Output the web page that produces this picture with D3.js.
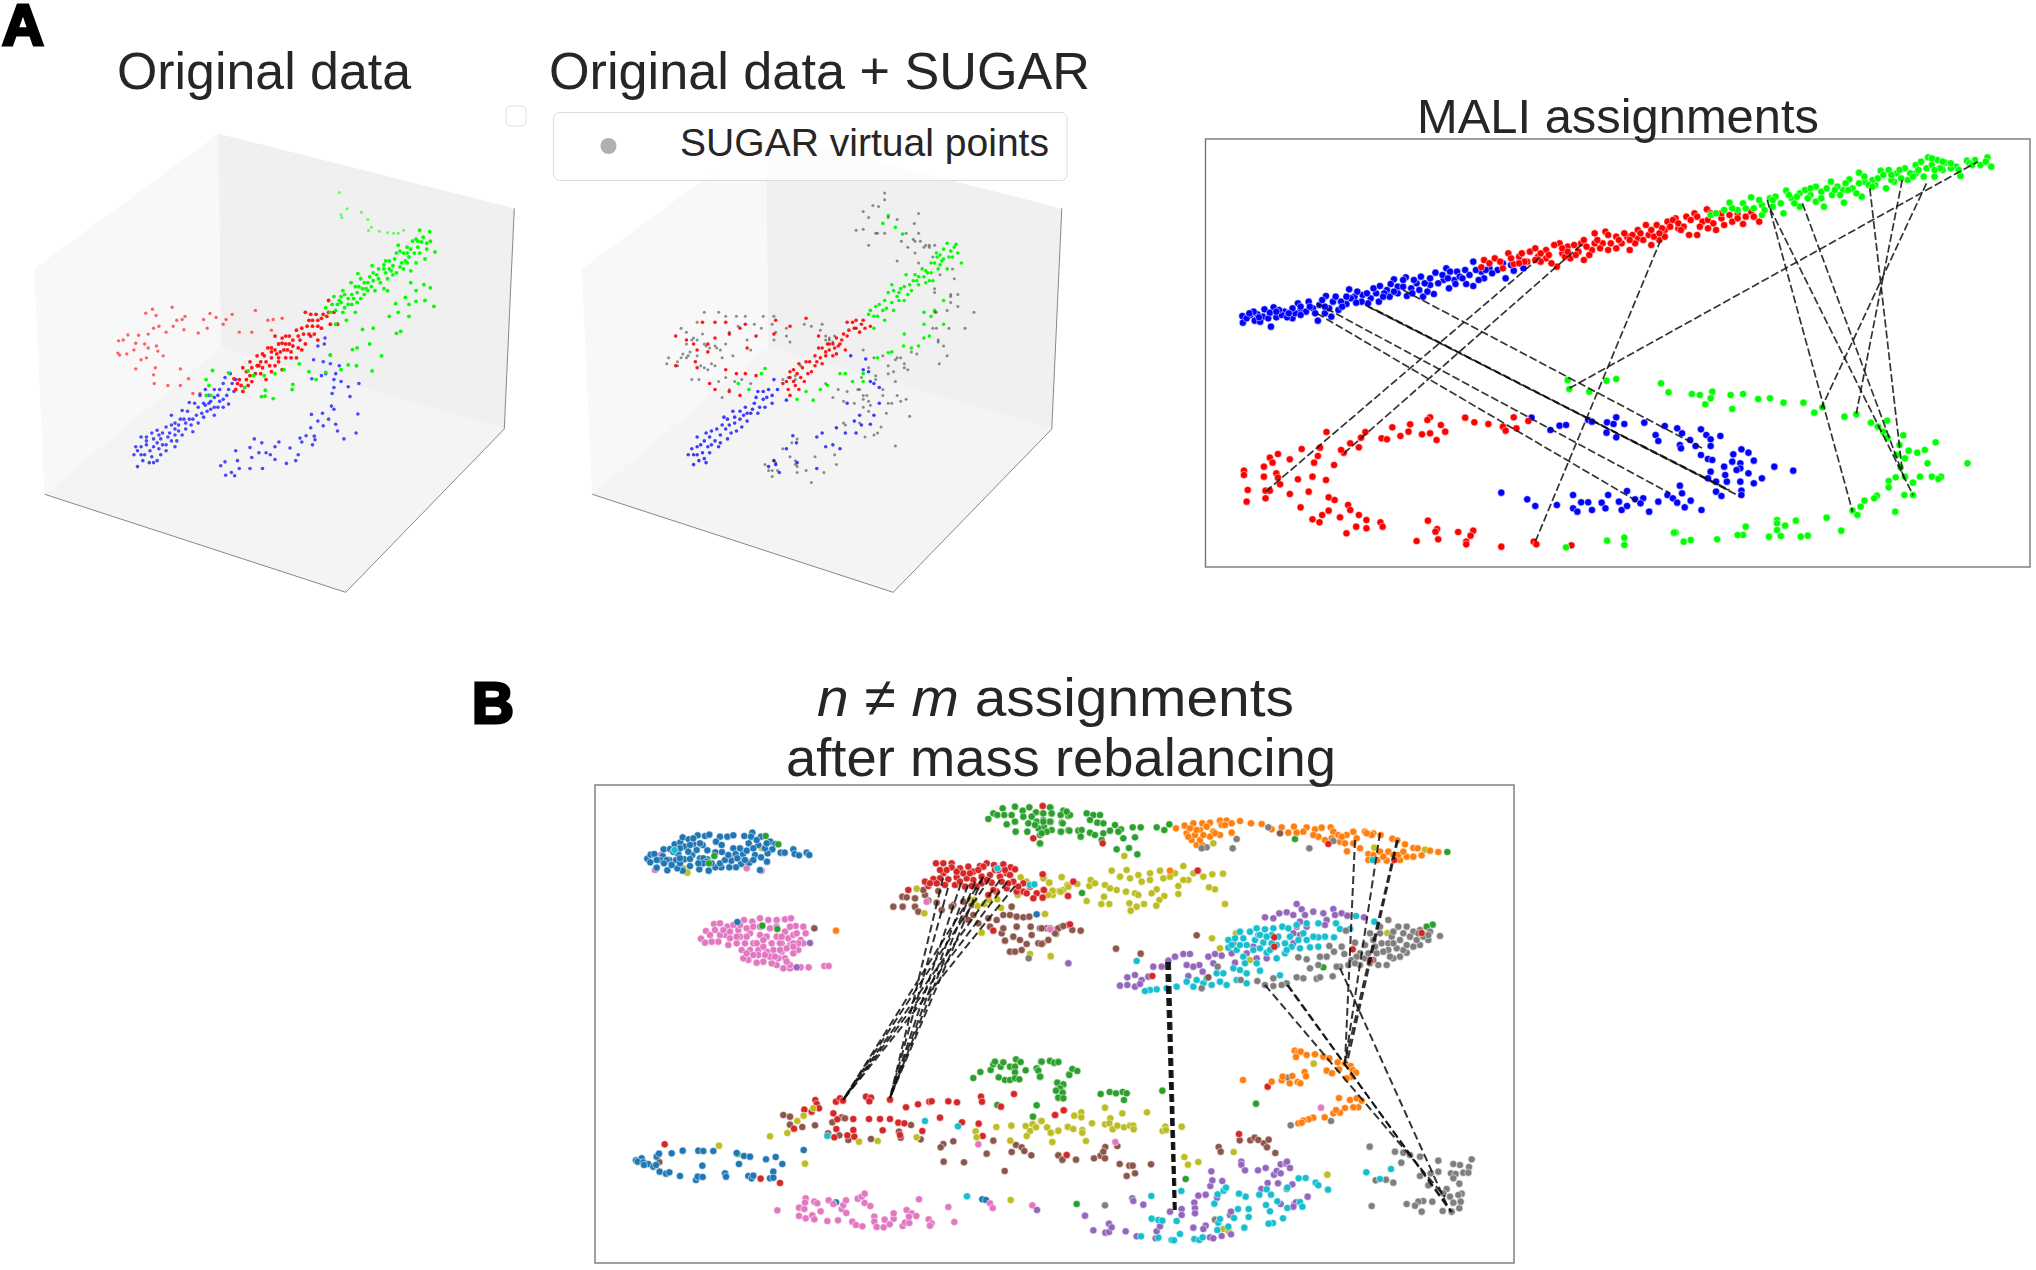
<!DOCTYPE html>
<html><head><meta charset="utf-8">
<script src="https://cdn.jsdelivr.net/npm/d3@7"></script>
<style>html,body{margin:0;padding:0;background:#fff}svg{display:block}text{font-family:"Liberation Sans",Arial,sans-serif}</style>
</head><body><svg id="c" width="2036" height="1270"></svg>
<script>
// ---------- 3D pane outlines (read in crop units) ----------
const paneLeft=[[96,680],[612,338],[618,878],[125,1250]];
const paneBack=[[612,338],[1440,527],[1412,1085],[618,878]];
const paneFloor=[[125,1250],[618,878],[1412,1085],[968,1498]];
const paneEdges=[[[125,1250],[968,1498]],[[968,1498],[1412,1085]],[[1412,1085],[1440,527]]];

// ---------- Panel A1: Original data ----------
const a1Green=[[1175,582],[1203,586],[1165,605],[1185,600],[1205,610],[1140,625],[1115,620],[1170,625],[1218,637],[1190,655],[1130,640],[1145,650],[1110,640],[1165,665],[1125,665],[1080,660],[1100,672],[1060,680],[1130,680],[1110,690],[1150,685],[1042,672],[1002,692],[1035,700],[1060,705],[1080,690],[1020,715],[1040,725],[1075,730],[1085,735],[983,715],[960,735],[1000,740],[1020,745],[965,745],[935,750],[950,760],[985,770],[995,790],[1010,755],[965,778],[940,785],[912,778],[930,770],[970,810],[940,820],[1150,715],[1165,735],[1187,720],[1205,728],[1135,752],[1190,760],[1215,775],[1145,770],[1165,762],[1108,768],[1115,790],[1090,800],[1145,800],[1015,833],[1045,830],[1110,843],[1122,838],[1035,870],[1000,880],[987,884],[1068,900],[975,923],[998,925],[1042,938],[955,935],[925,898],[912,942],[865,940],[885,960],[838,920],[820,972],[818,985],[743,987],[732,1003],[742,1002],[765,1008],[795,935],[770,945],[740,950],[710,950],[695,938],[685,980],[595,937],[640,943],[577,960],[585,975],[578,1000],[590,1000],[1025,730],[1005,725],[1045,710],[1140,640],[1175,640],[1150,630],[975,755],[1095,685],[1195,615],[1180,612],[1155,610],[1195,630],[1160,640],[1120,635],[1135,660],[1105,655],[1090,660],[1120,675],[1075,670],[1085,705],[1055,695],[1065,715],[1045,690],[1030,715],[1010,705],[1015,730],[1050,735],[995,725],[990,755],[975,770],[1000,765],[955,750],[945,770],[960,790],[985,745],[925,790],[1100,695],[1140,665],[1090,680],[1030,735],[1075,680],[1170,610],[955,765]];
const a1GreenFaint=[[950,487],[972,528],[1012,537],[955,543],[957,550],[1030,555],[1040,575],[1032,583],[1062,585],[1085,588],[1102,590],[1115,590],[1130,582]];
const a1Red=[[915,800],[935,790],[920,760],[925,820],[945,820],[885,795],[875,810],[860,825],[855,790],[900,830],[880,845],[890,860],[850,845],[830,835],[810,850],[790,855],[770,850],[855,870],[835,880],[815,890],[795,885],[770,885],[750,880],[830,905],[800,905],[780,915],[760,905],[740,900],[720,900],[700,915],[680,930],[790,935],[760,940],[735,930],[715,945],[690,960],[670,960],[655,958],[695,975],[680,990],[745,960],[790,868],[840,860],[875,825],[810,870],[775,895],[730,915],[705,965],[660,985],[900,805],[920,790],[905,795],[890,810],[870,795],[865,810],[890,825],[865,845],[845,830],[820,860],[800,870],[835,850],[780,870],[760,880],[845,885],[820,875],[805,885],[785,890],[760,890],[815,905],[745,915],[770,925],[725,925],[705,930],[720,925],[690,940],[730,945],[700,950],[675,975],[665,970],[755,925],[800,850],[870,850],[780,905],[735,895]];
const a1RedFaint=[[427,782],[482,777],[408,792],[437,798],[518,800],[495,810],[510,808],[588,793],[570,808],[605,803],[650,795],[633,808],[715,785],[750,810],[765,808],[790,805],[625,820],[580,830],[555,842],[515,834],[485,825],[465,840],[445,825],[430,830],[415,845],[388,848],[358,847],[345,860],[332,862],[380,868],[405,870],[438,875],[375,885],[355,895],[335,898],[442,888],[457,900],[410,905],[395,910],[380,933],[435,930],[430,948],[505,933],[432,970],[470,975],[505,975],[528,958],[540,995],[560,995],[670,840],[705,840],[760,835],[415,880],[330,893]];
const a1Blue=[[645,945],[630,955],[660,960],[625,970],[600,985],[640,985],[655,990],[575,985],[610,1000],[640,1022],[590,1015],[560,1000],[530,1018],[555,1030],[580,1040],[600,1050],[510,1038],[480,1050],[530,1060],[555,1070],[500,1075],[490,1085],[520,1085],[465,1080],[440,1088],[425,1095],[395,1105],[470,1105],[495,1115],[440,1120],[410,1125],[380,1130],[375,1150],[395,1150],[420,1140],[450,1150],[465,1125],[385,1180],[418,1170],[430,1170],[445,1135],[540,1092],[570,1055],[610,1030],[625,1010],[490,1100],[505,1060],[585,1020],[550,1050],[520,1070],[455,1095],[410,1105],[575,1025],[600,1030],[450,1110],[480,1075],[650,970],[615,985],[635,1000],[600,1005],[585,1000],[570,1020],[545,1020],[565,1045],[525,1040],[540,1060],[515,1060],[490,1070],[475,1095],[500,1090],[510,1100],[445,1100],[430,1110],[410,1115],[395,1130],[430,1130],[455,1125],[405,1150],[425,1155],[385,1140],[400,1165],[440,1165],[590,1035],[625,1030],[480,1115],[465,1140],[490,1130],[535,1075],[615,1015],[910,855],[890,875],[908,870],[925,898],[878,910],[905,915],[925,920],[950,925],[940,945],[912,945],[900,950],[873,958],[935,960],[955,965],[1005,970],[975,978],[935,980],[930,995],[980,1003],[928,1027],[935,1035],[903,1045],[872,1048],[1002,1047],[920,1060],[890,1065],[940,1073],[870,1082],[905,1077],[945,1090],[997,1095],[963,1110],[880,1103],[857,1102],[840,1108],[882,1112],[875,1125],[845,1118],[835,1150],[828,1165],[802,1172],[812,1133],[781,1118],[770,1130],[757,1150],[745,1145],[725,1145],[733,1120],[712,1110],[700,1132],[705,1157],[770,1162],[660,1140],[665,1165],[630,1168],[618,1178],[670,1185],[700,1185],[735,1185],[648,1195],[632,1202],[657,1203]];

// ---------- Panel A2: Original data + SUGAR ----------
const a2Gray=[[965,488],[965,505],[932,520],[948,522],[905,535],[920,550],[975,550],[1000,555],[1060,540],[1048,565],[885,582],[905,580],[940,590],[965,590],[1025,590],[1060,590],[1012,610],[1030,625],[1065,610],[1090,625],[920,620],[1000,660],[1050,640],[1060,665],[1100,650],[1155,680],[1120,695],[1160,705],[1105,730],[1150,745],[1170,745],[1170,775],[1150,765],[1140,785],[1105,790],[1215,790],[1190,830],[1145,830],[1110,830],[1130,875],[1115,860],[1140,900],[1118,920],[1055,895],[1040,890],[1020,920],[1000,905],[975,925],[960,900],[935,905],[905,885],[1030,935],[990,940],[975,945],[940,950],[995,965],[960,985],[1025,1010],[985,1020],[1035,1053],[970,1045],[955,1080],[935,1100],[910,1105],[995,1128],[905,1000],[890,985],[860,990],[835,985],[820,1005],[850,1015],[920,1015],[905,1030],[880,1020],[800,970],[895,1070],[850,1070],[825,850],[800,860],[785,835],[790,820],[810,855],[760,825],[715,950],[695,955],[730,925],[680,960],[520,955],[545,965],[500,965],[565,960],[590,970],[530,985],[510,1005],[425,960],[445,960],[470,935],[490,925],[460,930],[395,905],[410,905],[360,905],[385,925],[355,920],[440,900],[505,885],[540,900],[520,870],[490,875],[460,870],[430,855],[395,830],[410,840],[440,815],[460,790],[500,790],[520,800],[550,800],[575,800],[625,800],[655,800],[530,840],[555,825],[600,820],[580,860],[590,885],[620,830],[660,840],[690,850],[700,865],[655,860],[650,820],[690,830],[740,820],[1045,605],[1080,620],[1105,620],[655,1165],[630,1175],[640,1190],[650,1205],[665,1190],[680,1135],[705,1120],[720,1110],[700,1155],[715,1175],[720,1195],[745,1190],[770,1155],[760,1220],[795,1195],[830,1175],[825,1150],[855,1075],[945,1095],[920,1040],[960,1000],[1000,1000],[975,1020],[1010,1015],[410,870],[425,860],[440,860],[465,875],[475,880],[400,895],[415,900],[385,915],[450,925],[480,920],[510,905],[495,880],[455,845],[420,890],[810,860],[820,865],[800,850],[715,960],[905,1010],[915,1000],[925,1025],[895,985],[1105,740],[1110,790],[1100,830],[1150,750],[1050,610],[1090,620],[1075,625],[945,590],[1115,865],[995,910],[1010,905],[1020,930],[660,1170],[650,1190],[715,1165],[720,1180],[940,960],[900,955],[920,930]];
const a2Green=[[1165,618],[1140,615],[1170,640],[1130,630],[1112,650],[1180,665],[1095,665],[1140,680],[1115,680],[1080,685],[1050,695],[1075,700],[1100,710],[1025,695],[1045,710],[985,720],[1010,730],[1040,735],[1000,750],[975,740],[1020,760],[950,770],[925,785],[970,780],[990,785],[945,800],[920,795],[965,810],[935,830],[1110,640],[1125,660],[1060,720],[1095,690],[1155,650],[1130,760],[1105,785],[1075,790],[1130,820],[1075,820],[1090,850],[1075,855],[1020,845],[1018,875],[1040,880],[1060,875],[975,892],[985,890],[905,965],[905,945],[855,945],[875,965],[840,945],[785,985],[805,975],[765,1012],[745,990],[720,1010],[620,945],[630,932],[585,985],[555,970],[975,545],[995,575],[1015,592],[960,565],[1095,800],[945,905],[1150,635],[1160,625],[1145,650],[1130,655],[1120,645],[1105,665],[1085,690],[1070,680],[1090,710],[1060,700],[1035,720],[1020,725],[1005,740],[990,735],[1030,745],[985,765],[965,760],[960,785],[935,800],[1120,670],[1005,760],[1055,710],[940,775],[1080,715]];
const a2Red=[[905,810],[925,825],[885,810],[860,815],[880,830],[895,840],[860,850],[830,855],[805,870],[780,880],[855,885],[830,895],[800,900],[770,900],[745,915],[725,920],[700,940],[720,945],[760,940],[790,920],[690,965],[710,965],[740,965],[725,985],[700,1000],[680,970],[820,870],[840,870],[810,885],[780,850],[380,850],[455,815],[490,815],[520,815],[575,820],[605,850],[580,880],[410,860],[440,885],[430,870],[470,870],[490,855],[530,845],[560,830],[660,810],[700,825],[745,805],[655,845],[380,925],[435,915],[470,890],[520,935],[475,970],[490,985],[530,990],[550,945],[575,945],[605,950],[560,1000],[440,930],[910,830],[875,815],[865,835],[845,860],[850,845],[825,880],[810,870],[790,880],[820,900],[785,905],[775,915],[755,915],[735,930],[710,935],[700,955],[730,955],[750,945],[770,925],[800,890],[835,875],[715,975],[695,985],[885,830],[900,820]];
const a2Blue=[[655,960],[640,985],[665,985],[610,990],[625,1010],[600,1020],[650,1020],[690,1012],[575,1030],[540,1040],[590,1045],[610,1045],[515,1055],[560,1060],[580,1065],[530,1075],[550,1090],[480,1090],[505,1100],[520,1085],[525,1110],[465,1095],[440,1105],[490,1115],[450,1125],[425,1135],[470,1130],[500,1130],[440,1150],[460,1160],[415,1150],[430,1175],[475,1145],[465,1170],[570,1050],[545,1070],[630,1030],[650,1000],[635,1005],[615,1030],[595,1035],[560,1040],[545,1055],[525,1060],[565,1080],[510,1075],[535,1095],[495,1085],[475,1105],[505,1120],[460,1115],[440,1130],[455,1145],[480,1125],[430,1150],[445,1165],[605,1005],[625,990],[580,1045],[870,900],[912,908],[905,935],[920,940],[935,970],[950,980],[925,965],[860,1020],[950,1020],[935,1050],[895,1050],[880,1065],[925,1073],[900,1075],[885,1095],[830,1082],[855,1095],[790,1095],[775,1105],[800,1130],[820,1125],[840,1135],[708,1102],[718,1120],[690,1135],[655,1165],[660,1175],[720,1170],[775,1185],[670,1195],[640,1180]];

// ---------- Panel A3: MALI assignments ----------
const maliBlue=[[97,708],[98,728],[112,705],[120,722],[125,703],[138,688],[135,710],[150,740],[155,682],[145,715],[160,712],[175,695],[190,715],[200,670],[205,690],[220,665],[228,685],[237,722],[250,700],[262,710],[252,648],[265,665],[275,690],[290,672],[295,628],[305,650],[320,645],[335,655],[350,665],[352,618],[365,630],[378,598],[370,650],[385,620],[400,592],[402,648],[420,610],[432,650],[452,642],[428,590],[455,578],[445,615],[475,565],[480,625],[495,575],[510,570],[525,545],[525,618],[512,612],[545,595],[555,565],[585,595],[580,550],[600,572],[618,565],[470,600],[490,600],[435,610],[395,620],[360,640],[330,670],[280,665],[240,675],[215,695],[195,700],[170,705],[500,590],[540,575],[610,548],[105,715],[118,695],[130,725],[148,698],[165,690],[180,712],[190,685],[205,705],[222,680],[232,700],[245,660],[258,685],[270,650],[282,680],[298,655],[310,635],[318,665],[328,640],[345,640],[358,650],[340,625],[372,612],[385,640],[395,600],[410,625],[415,600],[425,630],[445,595],[460,610],[468,585],[482,575],[492,612],[505,595],[518,585],[530,570],[535,600],[548,570],[478,595],[440,635],[412,640],[378,635],[308,668],[290,650],[250,680],[205,680],[183,700],[160,695],[128,712],[110,700],[570,570],[595,555],[560,580],[633,1013],[685,1037],[697,1035],[668,1050],[738,1020],[745,1025],[773,1027],[790,1012],[785,1032],[805,1032],[842,1028],[880,1038],[903,1045],[912,1060],[772,1058],[790,1072],[863,1065],[868,1083],[927,1080],[937,1098],[908,1095],[910,1105],[947,1048],[957,1065],[965,1078],[983,1068],[965,1098],[947,1125],[960,1137],[968,1140],[1022,1108],[1007,1123],[1035,1118],[1045,1142],[1005,1145],[990,1160],[1020,1150],[1020,1165],[1013,1170],[992,1185],[1035,1180],[965,1175],[1060,1195],[1045,1210],[1020,1205],[995,1205],[960,1195],[975,1205],[975,1235],[985,1248],[1022,1232],[1022,1245],[1083,1160],[1118,1172],[577,1238],[625,1258],[640,1278],[680,1275],[710,1245],[725,1267],[738,1267],[710,1285],[718,1295],[745,1290],[763,1268],[775,1245],[770,1285],[795,1265],[800,1290],[810,1278],[810,1233],[825,1258],[840,1255],[835,1270],[868,1265],[885,1245],[895,1255],[908,1217],[912,1240],[903,1268],[928,1262],[917,1282],[948,1290],[851,1295]];
const maliRed=[[545,540],[540,562],[565,535],[590,520],[600,552],[610,530],[630,515],[645,530],[660,510],[680,560],[685,490],[700,500],[705,535],[725,490],[730,540],[745,510],[750,460],[770,455],[765,490],[790,470],[775,510],[815,510],[810,470],[830,450],[845,435],[855,495],[870,480],[865,435],[885,425],[900,415],[925,465],[940,465],[920,410],[935,400],[958,388],[950,425],[975,450],[990,435],[1000,405],[1025,432],[1030,410],[1055,425],[960,420],[1040,395],[1015,400],[985,415],[905,445],[880,450],[850,465],[830,475],[800,490],[750,490],[720,515],[690,520],[660,535],[625,545],[580,565],[555,550],[575,545],[595,535],[615,520],[620,545],[640,505],[650,520],[665,525],[675,495],[690,505],[695,530],[712,495],[715,525],[735,500],[740,525],[755,480],[760,505],[775,465],[780,490],[795,480],[790,505],[805,460],[820,465],[825,490],[835,460],[840,480],[855,450],[860,470],[875,445],[880,470],[890,440],[895,420],[905,430],[915,440],[928,420],[940,410],[945,440],[965,400],[970,430],[985,400],[1005,425],[1015,415],[1045,410],[670,550],[650,545],[610,550],[640,540],[700,515],[730,480],[815,480],[870,460],[910,450],[960,445],[253,1056],[325,1056],[375,1042],[445,1012],[440,1020],[408,1033],[405,1055],[390,1068],[355,1075],[365,1078],[430,1063],[445,1060],[465,1035],[473,1055],[457,1080],[510,1013],[527,1027],[553,1032],[580,1040],[600,1012],[605,1045],[627,1023],[585,1052],[317,1073],[297,1090],[313,1102],[285,1118],[241,1103],[207,1107],[280,1110],[163,1122],[148,1133],[185,1138],[153,1148],[137,1160],[237,1128],[230,1148],[267,1155],[100,1172],[100,1185],[137,1190],[160,1180],[163,1193],[200,1198],[227,1190],[252,1200],[167,1213],[107,1230],[140,1232],[148,1232],[220,1235],[185,1242],[140,1255],[105,1265],[257,1252],[268,1260],[205,1282],[293,1275],[297,1290],[257,1292],[245,1305],[278,1312],[227,1318],[240,1327],[313,1305],[327,1320],[353,1327],[357,1340],[308,1340],[327,1345],[290,1360],[441,1322],[458,1347],[455,1355],[460,1378],[497,1356],[525,1352],[520,1367],[420,1383],[512,1385],[512,1393],[577,1400],[637,1385],[642,1393],[707,1396]];
const maliGreen=[[965,405],[990,390],[1000,368],[1015,390],[1025,370],[1040,352],[1045,385],[1060,405],[1075,355],[1100,400],[1105,332],[1095,370],[1130,340],[1130,380],[1160,320],[1160,365],[1175,380],[1188,305],[1190,345],[1212,368],[1222,298],[1240,278],[1245,350],[1250,305],[1280,272],[1295,270],[1290,325],[1270,315],[1310,280],[1325,265],[1330,300],[1345,255],[1368,232],[1385,240],[1360,290],[1380,290],[1400,248],[1420,260],[1440,242],[1428,288],[1455,240],[1478,232],[1485,260],[1465,255],[1345,280],[1305,305],[1265,300],[1210,330],[1150,345],[1115,355],[1060,375],[1200,320],[1240,310],[1395,270],[1410,265],[975,400],[1005,385],[1030,385],[1055,360],[1065,390],[1080,380],[1085,350],[1110,345],[1120,370],[1140,330],[1145,355],[1150,325],[1170,335],[1170,355],[1180,325],[1195,330],[1205,345],[1215,310],[1228,325],[1235,340],[1250,290],[1258,315],[1275,295],[1285,285],[1300,300],[1315,270],[1318,295],[1335,280],[1350,270],[1355,245],[1365,265],[1375,255],[1390,265],[1375,235],[1395,245],[1410,250],[1425,270],[1445,250],[1450,255],[1475,245],[1080,360],[1125,350],[1220,330],[1265,320],[1300,285],[1340,290],[1380,270],[700,900],[703,927],[772,902],[790,897],[873,910],[740,935],[887,937],[930,942],[945,945],[968,935],[965,955],[955,973],[1002,945],[1025,942],[1005,987],[1053,957],[1075,955],[1100,968],[1137,968],[1172,982],[1157,998],[1213,1010],[1235,1003],[1262,1028],[1292,1022],[1275,1040],[1285,1055],[1322,1066],[1293,1073],[1315,1095],[1332,1112],[1348,1118],[1362,1110],[1382,1087],[1310,1125],[1325,1135],[1367,1150],[1441,1150],[1317,1162],[1308,1192],[1295,1203],[1325,1190],[1353,1190],[1375,1190],[1392,1190],[1387,1197],[1340,1208],[1295,1222],[1324,1245],[1340,1245],[1273,1247],[1268,1255],[1250,1262],[1243,1280],[1228,1292],[1237,1305],[1307,1295],[1180,1313],[1123,1322],[1103,1337],[1088,1320],[1088,1330],[1088,1350],[1030,1340],[1025,1365],[1015,1365],[1073,1370],[1095,1368],[1132,1370],[1145,1367],[1207,1352],[977,1378],[928,1380],[915,1385],[900,1357],[897,1358],[805,1373],[805,1395],[773,1382],[697,1402]];
const maliLines=[[235,700,830,1265],[235,670,890,1240],[325,675,1000,1230],[330,680,1000,1232],[345,690,1020,1250],[395,630,950,1105],[140,1235,650,530],[285,1120,725,495],[640,1385,875,470],[703,925,1460,245],[1070,360,1228,1295],[1075,385,1340,1245],[1135,370,1325,1200],[1260,325,1320,1170],[1320,300,1235,1000],[1365,310,1170,985]];

// ---------- Panel B, north-west part ----------
const nwBlue=[[172,236],[182,224],[193,222],[181,247],[200,263],[232,271],[218,228],[221,208],[240,207],[254,193],[271,187],[278,172],[296,178],[323,166],[345,168],[358,164],[390,170],[412,170],[430,166],[463,168],[487,158],[483,170],[513,170],[541,185],[556,192],[547,208],[533,220],[572,218],[584,218],[610,208],[614,222],[627,226],[650,218],[658,225],[531,245],[510,270],[478,248],[453,252],[438,262],[418,262],[394,262],[376,262],[356,272],[328,268],[300,258],[278,272],[262,265],[238,240],[258,240],[283,238],[307,225],[330,235],[352,238],[378,185],[395,195],[376,217],[396,216],[352,211],[338,195],[310,192],[285,200],[265,222],[430,205],[437,222],[424,242],[459,222],[476,190],[505,195],[495,225],[513,232],[470,212],[490,205],[525,205],[390,250],[442,235],[490,240],[300,237],[270,250],[230,240],[210,240],[340,235],[310,175],[330,190],[300,195],[350,245],[200,240],[222,250],[245,255],[270,235],[295,215],[320,210],[340,250],[365,250],[405,240],[415,225],[450,205],[465,240],[500,180],[530,190],[270,205],[250,215],[325,250],[442,426],[1340,403]];
const nwPink=[[195,270],[212,225],[451,231],[470,265],[515,272],[430,232],[333,476],[348,453],[360,465],[372,432],[390,430],[412,440],[405,465],[420,455],[445,450],[462,420],[487,425],[510,415],[535,420],[560,420],[585,418],[603,415],[617,438],[640,440],[647,460],[632,480],[640,490],[625,510],[610,520],[585,535],[600,565],[580,565],[560,555],[545,550],[520,545],[500,548],[475,540],[460,535],[455,510],[480,510],[490,490],[465,490],[440,490],[415,495],[385,485],[365,485],[345,488],[390,465],[420,475],[450,470],[480,460],[510,465],[530,470],[560,470],[585,455],[600,440],[570,490],[550,510],[530,515],[505,510],[575,515],[600,495],[625,490],[505,525],[545,530],[565,535],[520,500],[545,490],[595,475],[470,445],[490,440],[540,445],[590,505],[632,562],[656,562],[703,558],[716,558],[600,555],[375,450],[400,450],[430,435],[450,435],[510,440],[560,440],[575,470],[610,465],[620,460],[610,490],[440,470],[470,470],[500,490],[520,480],[540,530],[525,525],[555,530],[590,545],[470,520],[490,525],[570,510],[610,500],[1383,448],[1010,365]];
const nwRed=[[1038,250],[1060,250],[1085,250],[1060,280],[1085,262],[1110,265],[1135,260],[1150,275],[1170,258],[1190,250],[1212,255],[1240,253],[1262,262],[1275,268],[1250,280],[1230,290],[1200,285],[1175,290],[1150,300],[1130,295],[1100,292],[1075,298],[1050,295],[1030,297],[1015,318],[1005,305],[955,330],[1040,310],[1065,315],[1095,315],[1125,320],[1145,318],[1175,310],[1205,308],[1235,305],[1270,305],[1300,310],[1320,320],[1340,340],[1360,330],[1358,352],[1330,355],[1300,335],[1280,335],[1250,325],[1220,335],[1195,345],[1210,330],[1180,260],[1120,280],[1245,270],[1070,270],[1100,275],[1140,280],[1165,270],[1215,270],[1225,270],[1260,285],[1110,305],[1160,320],[1190,300],[1050,270],[1020,310],[1255,310],[1285,320],[1310,340],[1358,283],[1210,452],[1434,348],[1435,435],[1330,175],[1358,78]];
const nwGreen=[[373,228],[357,250],[527,168],[565,193],[517,437],[562,447],[1195,117],[1210,100],[1238,85],[1222,105],[1243,105],[1265,105],[1275,80],[1298,92],[1318,82],[1338,97],[1358,100],[1382,83],[1385,102],[1420,92],[1415,128],[1435,108],[1250,133],[1275,125],[1277,155],[1315,130],[1312,155],[1340,125],[1350,165],[1350,192],[1362,140],[1382,125],[1385,150],[1412,155],[1325,110],[1360,120],[1345,145],[1370,155],[1335,135],[1435,150],[1300,110]];
const nwBrown=[[466,245],[673,445],[574,490],[937,350],[910,380],[938,380],[975,355],[975,380],[985,395],[1015,362],[1005,345],[1045,333],[1055,390],[1040,368],[1090,375],[1120,365],[1145,375],[1125,415],[1150,405],[1165,430],[1195,415],[1240,405],[1265,380],[1260,405],[1280,410],[1300,412],[1318,410],[1322,440],[1350,445],[1370,445],[1400,448],[1415,440],[1398,462],[1375,480],[1358,490],[1345,490],[1325,465],[1310,492],[1290,480],[1270,470],[1245,482],[1235,460],[1260,515],[1275,515],[1295,510],[1280,440],[1240,445],[1200,440],[1220,420],[1135,420],[1085,380],[950,352],[1000,330]];
const nwOlive=[[280,265],[292,278],[514,203],[980,326],[1003,400],[1140,358],[1153,360],[1163,378],[1183,372],[1197,360],[1222,358],[1233,384],[1175,458],[1320,522],[1382,530],[1292,292],[1310,305],[1283,345],[1362,295],[1378,308],[1415,292],[1387,333],[1408,333],[1420,330],[1432,315],[1365,402],[1388,345]];
const nwCyan=[[254,210],[1320,315],[1333,313],[1222,265]];
const nwOrange=[[738,452]];
const nwPurple=[[660,489],[620,562],[1435,550]];
const nwGray=[[1316,535]];

// ---------- Panel B, north-east part ----------
const neGreen=[[30,82],[10,100],[62,105],[35,100],[90,105],[80,95],[68,130],[30,125],[63,155],[88,152],[10,125],[140,100],[160,105],[180,105],[150,120],[172,128],[190,130],[225,135],[243,148],[278,142],[302,142],[350,142],[373,150],[388,133],[115,152],[125,150],[122,170],[150,158],[165,165],[190,160],[210,152],[235,155],[250,175],[285,172],[185,180],[230,208],[267,204],[292,223],[765,177],[1222,216],[0,190],[5,160],[1178,434],[1160,440],[126,339],[850,562]];
const neOrange=[[408,145],[434,137],[460,130],[487,130],[510,128],[540,122],[560,122],[600,123],[633,130],[665,132],[695,148],[725,142],[745,158],[762,140],[770,158],[800,142],[825,148],[845,143],[872,142],[880,155],[895,165],[920,165],[940,155],[975,155],[1000,160],[1022,165],[1057,176],[1072,181],[1095,193],[1120,204],[1133,205],[1170,212],[1195,216],[1145,226],[1100,230],[1080,240],[1040,242],[1012,240],[985,222],[960,205],[921,214],[940,190],[900,185],[855,180],[835,170],[790,155],[440,160],[455,180],[470,195],[487,195],[540,165],[575,158],[450,145],[480,150],[520,155],[510,170],[995,165],[1045,215],[1020,215],[1060,225],[1120,230],[545,135],[575,130],[390,272],[980,160],[875,175],[915,190],[445,170],[465,165],[480,180],[500,140],[525,160],[490,165],[470,150],[555,135],[820,165],[905,170],[950,175],[985,240],[1000,225],[1030,230],[1075,225],[1090,215]];
const neOlive=[[253,228],[215,272],[260,270],[240,290],[270,295],[295,285],[330,280],[360,272],[430,258],[405,280],[475,272],[517,283],[549,281],[525,328],[507,322],[445,300],[415,318],[415,342],[373,348],[350,328],[335,340],[358,360],[349,377],[312,372],[290,380],[272,392],[268,370],[285,340],[258,335],[230,330],[208,372],[184,372],[192,350],[140,363],[148,318],[152,300],[85,320],[62,335],[38,332],[28,308],[10,295],[65,291],[112,312],[165,310],[195,315],[305,305],[330,300],[370,295],[390,290],[430,300],[460,280],[490,290],[25,345],[15,402],[32,528],[555,372],[516,475],[540,505],[588,460],[1042,459],[1003,203],[1155,209],[520,190],[210,325],[295,345],[630,540]];
const neRed=[[8,78],[188,190],[8,283],[100,305],[84,348],[12,330],[8,353],[90,433],[473,272],[337,588],[938,508],[990,542],[1145,459],[865,192],[1063,240],[703,472],[703,500]];
const nePurple=[[770,372],[785,388],[718,400],[740,397],[700,415],[675,412],[760,405],[795,405],[820,395],[850,400],[880,387],[885,405],[905,400],[922,407],[972,412],[860,420],[855,435],[800,440],[780,465],[760,490],[780,425],[760,460],[640,500],[620,520],[575,520],[545,527],[525,522],[505,530],[520,550],[478,555],[488,575],[460,560],[445,588],[430,522],[450,522],[405,530],[385,542],[365,560],[340,560],[325,590],[305,600],[285,585],[262,592],[240,617],[262,615],[285,620],[300,612],[85,550],[440,555],[680,535],[650,535],[585,548],[580,490],[770,440]];
const neCyan=[[650,445],[675,448],[700,445],[727,440],[745,445],[770,435],[800,430],[835,430],[888,430],[900,447],[930,447],[948,408],[1003,425],[855,470],[882,472],[835,472],[835,500],[810,502],[780,505],[755,500],[735,490],[710,495],[695,490],[670,488],[645,480],[620,495],[610,475],[585,475],[565,480],[565,503],[590,510],[610,530],[615,550],[650,550],[660,572],[710,535],[680,518],[735,520],[290,543],[620,580],[620,610],[590,600],[560,615],[540,605],[515,615],[490,610],[460,620],[440,605],[410,620],[380,625],[350,628],[330,630],[315,633],[530,580],[550,580],[580,565],[600,570],[720,586],[998,240],[655,465],[695,465],[630,455],[600,455],[500,595],[470,600],[800,480],[775,480],[660,465],[680,470],[715,470],[750,470],[740,510],[690,510],[640,510],[600,495],[575,495],[660,505],[790,460],[820,470]];
const neGray=[[1045,420],[1075,440],[1100,440],[1120,455],[1140,450],[1170,455],[1200,468],[1165,480],[1140,495],[1120,500],[1100,518],[1080,530],[1060,535],[1040,555],[1015,555],[990,550],[960,555],[925,555],[900,560],[890,560],[860,530],[840,530],[835,555],[800,538],[775,532],[810,565],[830,596],[840,592],[878,589],[790,595],[770,592],[740,610],[725,615],[700,618],[700,595],[652,603],[675,615],[913,522],[905,500],[882,515],[868,498],[918,452],[945,488],[990,460],[1000,480],[1020,440],[1055,470],[1025,490],[1045,490],[1080,480],[1010,520],[1045,510],[960,520],[975,495],[1090,510],[1130,480],[1150,470],[935,540],[1020,460],[975,535],[1070,505],[1090,460],[1110,470],[1060,455],[1030,515],[1050,530],[1000,540],[985,520],[1100,495],[1060,490],[950,530],[945,550],[1005,500],[1135,460],[1165,465],[590,177],[500,202],[578,205],[485,205],[808,205],[880,183],[685,142],[533,560],[485,625],[602,600]];
const neBrown=[[5,445],[30,445],[55,445],[45,460],[70,438],[97,450],[122,452],[25,480],[5,492],[470,466],[228,506],[302,521],[720,160],[505,592]];
const nePink=[[30,448]];

// ---------- Panel B, south-west part ----------
const swBlue=[[138,391],[155,385],[143,395],[160,397],[175,402],[190,410],[198,405],[200,380],[207,371],[209,425],[228,431],[238,427],[245,370],[270,438],[278,362],[318,450],[323,440],[338,441],[337,407],[325,362],[340,363],[370,363],[405,430],[408,440],[447,402],[440,369],[462,378],[480,380],[475,438],[485,445],[490,437],[528,388],[557,381],[577,402],[550,425],[540,445],[550,443],[641,360],[738,517],[1177,508],[1188,510],[162,405]];
const swRed=[[224,343],[512,446],[570,459],[676,210],[680,222],[687,235],[665,245],[643,239],[738,215],[750,205],[759,212],[828,200],[843,203],[838,214],[900,209],[948,232],[984,223],[1018,215],[1025,214],[1075,214],[1101,217],[1173,200],[1176,215],[1272,192],[1233,230],[730,250],[742,268],[790,267],[837,267],[870,267],[900,267],[925,278],[943,280],[1050,263],[1116,277],[1166,281],[739,297],[790,300],[878,301],[612,296],[733,322],[772,316],[793,320],[930,315],[997,303],[1178,318],[1396,255],[1422,241],[1430,376]];
const swGreen=[[1150,144],[1171,126],[1202,120],[1210,103],[1215,95],[1232,110],[1240,97],[1260,110],[1278,88],[1275,110],[1292,96],[1307,121],[1275,127],[1226,142],[1245,150],[1260,150],[1275,145],[1288,148],[1340,115],[1345,122],[1351,140],[1353,95],[1380,92],[1392,98],[1405,95],[1437,133],[1402,158],[1420,165],[1400,180],[1412,175],[1418,188],[1405,204],[1420,205],[1222,225],[1340,226],[1329,260],[443,372]];
const swBrown=[[580,255],[600,260],[600,284],[637,291],[675,286],[727,277],[755,262],[765,265],[714,310],[748,316],[775,330],[843,327],[927,305],[963,285],[932,323],[992,328],[1060,342],[1052,352],[1090,334],[1061,395],[1122,397],[1190,371],[1210,332],[1244,423],[1265,366],[1278,345],[1295,352],[1303,363],[1324,376],[1405,376],[1417,389],[208,396]];
const swOlive=[[387,347],[540,319],[592,309],[622,273],[641,257],[645,401],[807,335],[863,333],[980,322],[1157,304],[1160,322],[1219,291],[1264,287],[1261,332],[1307,288],[1320,303],[1310,318],[1328,282],[1338,292],[1352,273],[1372,292],[1383,309],[1405,303],[1387,336],[1433,290],[1262,510],[670,235]];
const swPink=[[562,541],[647,505],[645,518],[627,533],[643,537],[627,558],[647,565],[667,556],[673,568],[673,515],[682,520],[692,544],[712,573],[716,511],[744,571],[730,522],[755,537],[760,525],[768,511],[769,549],[787,575],[798,585],[817,589],[803,506],[815,500],[824,491],[824,519],[841,528],[853,560],[853,575],[860,591],[881,592],[884,569],[899,583],[911,566],[911,550],[938,588],[945,578],[958,579],[950,540],[965,550],[957,560],[979,558],[987,508],[1016,568],[1025,580],[1020,587],[1075,531],[1093,576],[1200,520],[1208,534],[1327,526],[1165,343]];
const swCyan=[[1005,273],[1104,289],[1131,499],[712,318]];
const swPurple=[[1341,540]];

// ---------- Panel B, south-east part ----------
const seGreen=[[5,95],[30,93],[43,98],[55,96],[97,117],[112,123],[88,135],[0,140],[52,158],[70,163],[60,175],[48,182],[68,188],[55,203],[70,205],[182,192],[209,186],[228,190],[248,186],[260,190],[252,210],[367,182],[648,221],[110,522],[437,447]];
const seRed=[[45,255],[71,241],[80,375],[683,170],[597,312]];
const seOlive=[[103,257],[124,247],[124,262],[5,273],[21,292],[32,308],[55,302],[37,336],[84,291],[100,297],[127,300],[127,308],[138,333],[156,280],[195,233],[211,265],[195,283],[208,280],[218,298],[232,287],[252,292],[247,250],[270,287],[280,287],[281,298],[321,247],[368,303],[376,290],[378,300],[425,290],[433,381],[444,404],[475,396],[581,366],[821,101],[862,434],[550,597],[566,604]];
const seBrown=[[196,351],[232,348],[55,376],[67,389],[108,389],[162,385],[182,377],[190,365],[195,385],[239,402],[268,407],[278,407],[285,430],[260,438],[333,403],[536,351],[542,365],[599,331],[631,331],[644,323],[655,330],[672,340],[686,329],[681,352],[706,369]];
const sePink=[[226,336],[843,233]];
const seGray=[[277,505],[195,526],[743,143],[752,286],[873,273],[989,350],[1007,451],[1038,449],[1060,458],[995,528],[1065,365],[1090,368],[1084,398],[1110,375],[1140,380],[1195,392],[1240,402],[1260,405],[1295,388],[1287,411],[1270,428],[1285,428],[1233,430],[1247,432],[1240,445],[1258,461],[1220,477],[1165,466],[1140,438],[1172,430],[1195,425],[1265,491],[1255,495],[1230,500],[1210,490],[1150,513],[1135,515],[1100,522],[1125,527],[1177,515],[1145,545],[1208,543],[1235,545],[1258,535],[1262,515],[1240,518],[525,569],[570,555]];
const seOrange=[[609,150],[695,155],[725,151],[728,140],[757,138],[749,160],[773,156],[781,160],[794,126],[798,139],[764,62],[775,66],[782,65],[768,81],[800,75],[825,73],[850,80],[868,85],[893,97],[860,122],[876,130],[897,118],[915,100],[932,108],[938,120],[948,128],[935,140],[920,145],[897,204],[930,210],[950,205],[965,212],[955,232],[940,232],[915,234],[900,248],[880,250],[888,240],[854,262],[820,263],[806,268],[790,272],[775,280],[785,278]];
const sePurple=[[135,557],[160,601],[196,608],[207,606],[207,581],[215,592],[257,604],[280,513],[310,524],[290,619],[347,625],[350,604],[360,589],[390,545],[425,537],[425,555],[460,593],[497,587],[490,597],[463,518],[465,535],[465,550],[475,497],[497,494],[511,468],[517,451],[514,424],[547,453],[531,503],[573,545],[604,395],[604,404],[615,421],[654,421],[677,414],[702,434],[710,423],[722,430],[722,403],[737,400],[741,395],[750,414],[683,459],[664,477],[714,460],[740,477],[757,463],[722,522],[763,522],[803,500],[768,517],[760,530],[510,622],[520,625],[545,618],[573,613]];
const seCyan=[[334,498],[424,483],[335,566],[355,570],[367,572],[410,573],[303,619],[355,623],[395,630],[402,631],[420,612],[463,627],[478,630],[488,622],[532,600],[535,578],[540,567],[565,590],[551,482],[558,473],[533,493],[523,521],[597,491],[617,500],[582,564],[594,537],[626,537],[626,561],[613,593],[658,494],[680,478],[693,494],[678,525],[712,514],[690,544],[742,534],[780,516],[787,530],[729,565],[699,579],[686,581],[742,473],[776,445],[797,444],[827,458],[835,466],[864,479],[979,427],[1020,447],[1053,417]];

// assignment links of panel B, read as x1,y1,x2,y2 in page units
const bLines=[[983,877,843,1100],[1007,882,843,1100],[1015,886,843,1100],[1000,880,843,1100],[990,878,843,1100],[943,878,890,1098],[948,888,890,1098],[961,883,890,1098],[975,882,890,1098],[983,877,890,1098],[968,885,890,1098],[1168,962,1175,1213],[1169,962,1175,1213],[1167,962,1174,1213],[1170,962,1176,1213],[1166,962,1174,1213],[1355,840,1345,1063],[1380,833,1345,1063],[1397,840,1345,1063],[1398,840,1347,1063],[1265,985,1445,1197],[1287,985,1452,1212],[1288,985,1451,1212],[1340,968,1447,1205]];

const titles=["Original data","Original data + SUGAR","MALI assignments","after mass rebalancing"];
const legendLabel="SUGAR virtual points";

// ---------- drawing ----------
const svg=d3.select("#c");
const tab={blue:"#1f77b4",orange:"#ff7f0e",green:"#2ca02c",red:"#d62728",purple:"#9467bd",brown:"#8c564b",pink:"#e377c2",gray:"#7f7f7f",olive:"#bcbd22",cyan:"#17becf"};
const lin=(d,r)=>d3.scaleLinear().domain(d).range(r);
const y3d=lin([0,1568],[0,620]);
const x1=lin([0,1568],[0,560]), x2=lin([0,1568],[540,1100]), x2pane=lin([0,1568],[547.5,1107.5]);
const xM=lin([0,1568],[1190,2036]), yM=lin([0,1500],[80,580]);
const xW=lin([0,1440],[590,1070]), xE=lin([0,1440],[1040,1520]);
const yN=lin([0,750],[780,1030]), yS=lin([0,720],[1030,1270]);
const page=lin([0,2036],[0,2036]);

const blur=svg.append("defs").append("filter").attr("id","soft").attr("x","-5%").attr("y","-5%").attr("width","110%").attr("height","110%");
blur.append("feGaussianBlur").attr("stdDeviation",0.45);

function panes(x){
  const g=svg.append("g");
  const line=d3.line().x(d=>x(d[0])).y(d=>y3d(d[1]));
  g.append("path").attr("d",line(paneLeft)+"Z").attr("fill","#f8f8f8");
  g.append("path").attr("d",line(paneBack)+"Z").attr("fill","#f0f0f0");
  g.append("path").attr("d",line(paneFloor)+"Z").attr("fill","#f4f4f4");
  paneEdges.forEach(e=>g.append("path").attr("d",line(e)).attr("fill","none").attr("stroke","#888").attr("stroke-width",1));
}
function dots(parent,data,x,y,fill,o={}){
  parent.append("g").selectAll("circle").data(data).join("circle")
    .attr("cx",d=>x(d[0])).attr("cy",d=>y(d[1])).attr("r",o.r||1.4)
    .attr("fill",fill).attr("fill-opacity",o.a==null?1:o.a)
    .attr("stroke",o.s||"none").attr("stroke-width",o.sw||0);
}
function links(parent,data,x1s,y1s,x2s,y2s,o){
  parent.append("g").selectAll("line").data(data).join("line")
    .attr("x1",d=>x1s(d[0])).attr("y1",d=>y1s(d[1])).attr("x2",d=>x2s(d[2])).attr("y2",d=>y2s(d[3]))
    .attr("stroke","#111").attr("stroke-opacity",o.a).attr("stroke-width",o.w).attr("stroke-dasharray",o.dash);
}

// Panel A1
panes(x1);
const gA1=svg.append("g").attr("filter","url(#soft)");
dots(gA1,a1RedFaint,x1,y3d,"#ff0000",{a:.6,r:1.7});
dots(gA1,a1GreenFaint,x1,y3d,"#00ff00",{a:.6,r:1.5});
dots(gA1,a1Blue,x1,y3d,"#0000ff",{a:.7,r:1.8});
dots(gA1,a1Red,x1,y3d,"#ff0000",{a:.9,r:1.9});
dots(gA1,a1Green,x1,y3d,"#00ff00",{a:1,r:1.9});

// Panel A2
panes(x2pane);
const gA2=svg.append("g").attr("filter","url(#soft)");
dots(gA2,a2Blue,x2,y3d,"#0000ff",{a:.75,r:1.8});
dots(gA2,a2Red,x2,y3d,"#ff0000",{a:.9,r:1.8});
dots(gA2,a2Green,x2,y3d,"#00ff00",{a:1,r:1.8});
dots(gA2,a2Gray,x2,y3d,"#222222",{a:.5,r:1.5});

// legend
svg.append("rect").attr("x",553.5).attr("y",112.5).attr("width",513.5).attr("height",68).attr("rx",6)
  .attr("fill","#fff").attr("fill-opacity",.8).attr("stroke","#dcdcdc").attr("stroke-width",1);
svg.append("circle").attr("cx",608.5).attr("cy",146).attr("r",8).attr("fill","#b0b0b0");
svg.append("text").attr("x",680).attr("y",156).attr("font-size",39).attr("fill","#262626").attr("textLength",369).attr("lengthAdjust","spacingAndGlyphs").text(legendLabel);
svg.append("rect").attr("x",506).attr("y",106).attr("width",20).attr("height",20).attr("rx",4).attr("fill","#fff").attr("stroke","#e2e2e2");

// Panel A3
svg.append("rect").attr("x",1205.5).attr("y",139).attr("width",824.5).attr("height",428).attr("fill","#fff").attr("stroke","#777").attr("stroke-width",1.4);
const mo={r:3.6,s:"#fff",sw:.5};
const gM=svg.append("g");
dots(gM,maliBlue,xM,yM,"#0000ff",mo);
dots(gM,maliRed,xM,yM,"#ff0000",mo);
dots(gM,maliGreen,xM,yM,"#00ff00",mo);
links(svg,maliLines,xM,yM,xM,yM,{a:.85,w:1.7,dash:"8,3"});

// Panel B
svg.append("rect").attr("x",595).attr("y",785).attr("width",919).attr("height",478).attr("fill","#fff").attr("stroke","#777").attr("stroke-width",1.4);
const bo={r:3.6,s:"#fff",sw:.5};
const gB=svg.append("g");
[[nwBrown,xW,yN,"brown"],[nwOlive,xW,yN,"olive"],[nwPink,xW,yN,"pink"],[nwBlue,xW,yN,"blue"],[nwGreen,xW,yN,"green"],[nwRed,xW,yN,"red"],[nwCyan,xW,yN,"cyan"],[nwOrange,xW,yN,"orange"],[nwPurple,xW,yN,"purple"],[nwGray,xW,yN,"gray"],
 [neGreen,xE,yN,"green"],[neOlive,xE,yN,"olive"],[neOrange,xE,yN,"orange"],[nePurple,xE,yN,"purple"],[neCyan,xE,yN,"cyan"],[neGray,xE,yN,"gray"],[neBrown,xE,yN,"brown"],[nePink,xE,yN,"pink"],[neRed,xE,yN,"red"],
 [swGreen,xW,yS,"green"],[swBrown,xW,yS,"brown"],[swRed,xW,yS,"red"],[swOlive,xW,yS,"olive"],[swBlue,xW,yS,"blue"],[swPink,xW,yS,"pink"],[swCyan,xW,yS,"cyan"],[swPurple,xW,yS,"purple"],
 [seGreen,xE,yS,"green"],[seBrown,xE,yS,"brown"],[seRed,xE,yS,"red"],[seOlive,xE,yS,"olive"],[sePink,xE,yS,"pink"],[seGray,xE,yS,"gray"],[seOrange,xE,yS,"orange"],[sePurple,xE,yS,"purple"],[seCyan,xE,yS,"cyan"]
].forEach(s=>dots(gB,s[0],s[1],s[2],tab[s[3]],bo));
links(svg,bLines,page,page,page,page,{a:.85,w:2,dash:"8,4"});

// Titles
function title(t,x,y,fs,len){
  svg.append("text").attr("x",x).attr("y",y).attr("font-size",fs).attr("fill","#262626").attr("textLength",len).attr("lengthAdjust","spacingAndGlyphs").text(t);
}
title(titles[0],117,89,52,294);
title(titles[1],549,89,52,541);
title(titles[2],1417,133,49,402);
const tb=svg.append("text").attr("x",817).attr("y",716).attr("font-size",54).attr("fill","#262626").attr("textLength",477).attr("lengthAdjust","spacingAndGlyphs");
tb.append("tspan").attr("font-style","italic").text("n");
tb.append("tspan").text(" ≠ ");
tb.append("tspan").attr("font-style","italic").text("m");
tb.append("tspan").text(" assignments");
title(titles[3],786,776,54,550);

// Panel letters
[["A",2,45],["B",472,723]].forEach(d=>{
  svg.append("text").attr("x",d[1]).attr("y",d[2]).attr("font-size",58).attr("font-weight","bold").attr("fill","#000").attr("stroke","#000").attr("stroke-width",3).text(d[0]);
});
</script></body></html>
